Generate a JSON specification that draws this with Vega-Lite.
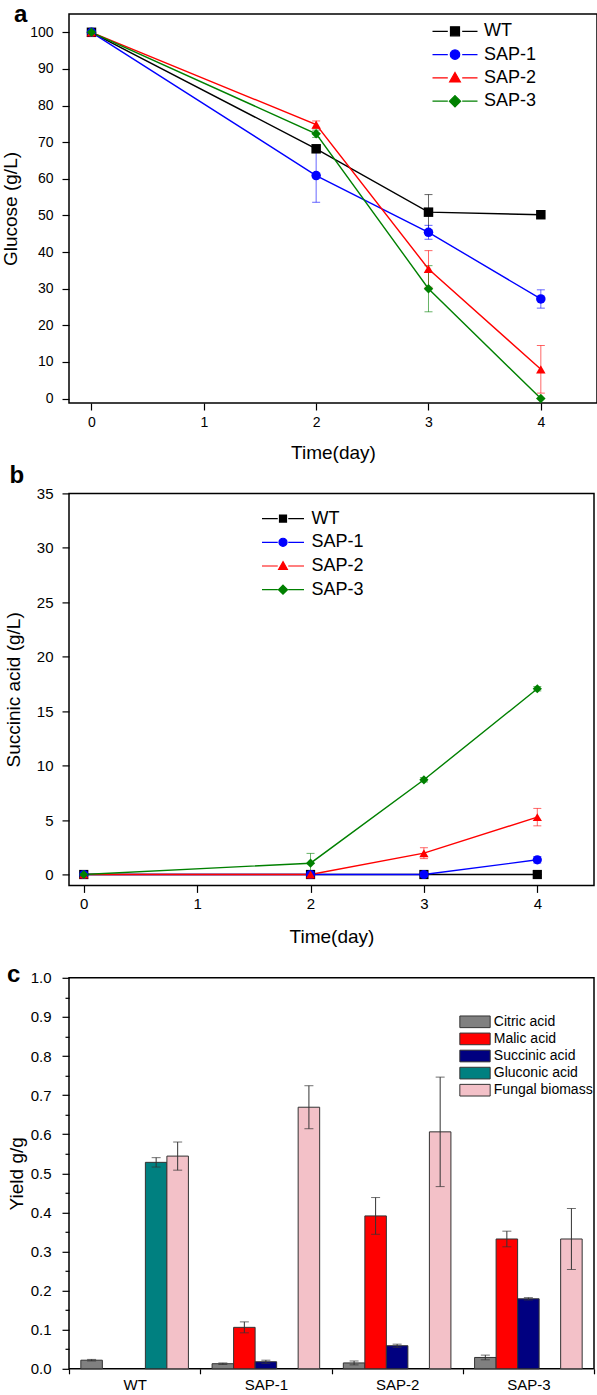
{
  "$schema": "https://vega.github.io/schema/vega-lite/v6.json",
  "background": "white",
  "padding": {"top": 2, "left": 0, "right": 0, "bottom": 0},
  "spacing": -0.6,
  "resolve": {"scale": {"color": "independent", "x": "independent", "y": "independent"}, "legend": {"color": "independent"}, "axis": {"x": "independent", "y": "independent"}},
  "config": {
    "font": "Liberation Sans",
    "view": {"stroke": "black", "strokeWidth": 1.5},
    "axis": {"domain": false, "grid": false, "tickColor": "black", "tickWidth": 1.2, "tickSize": 7, "labelColor": "black", "titleColor": "black", "titleFontWeight": "normal", "labelFontSize": 14, "titleFontSize": 19, "labelFont": "Liberation Sans", "titleFont": "Liberation Sans"},
    "legend": {"padding": 0, "labelColor": "black", "labelFont": "Liberation Sans"},
    "title": {"font": "Liberation Sans", "fontWeight": "bold", "fontSize": 24, "anchor": "start", "frame": "group", "color": "black", "baseline": "alphabetic"}
  },
  "datasets": {
    "glucose": [
      {"s": "WT", "t": 0, "v": 100, "e": 0},
      {"s": "WT", "t": 2, "v": 68.2, "e": 0.8},
      {"s": "WT", "t": 3, "v": 50.9, "e": 4.8},
      {"s": "WT", "t": 4, "v": 50.2, "e": 0.5},
      {"s": "SAP-1", "t": 0, "v": 100, "e": 0},
      {"s": "SAP-1", "t": 2, "v": 60.9, "e": 7.3},
      {"s": "SAP-1", "t": 3, "v": 45.4, "e": 1.9},
      {"s": "SAP-1", "t": 4, "v": 27.2, "e": 2.5},
      {"s": "SAP-2", "t": 0, "v": 100, "e": 0},
      {"s": "SAP-2", "t": 2, "v": 74.8, "e": 1.0},
      {"s": "SAP-2", "t": 3, "v": 35.4, "e": 5.0},
      {"s": "SAP-2", "t": 4, "v": 8.0, "e": 6.5},
      {"s": "SAP-3", "t": 0, "v": 100, "e": 0},
      {"s": "SAP-3", "t": 2, "v": 72.3, "e": 1.0},
      {"s": "SAP-3", "t": 3, "v": 30.0, "e": 6.3},
      {"s": "SAP-3", "t": 4, "v": 0, "e": 0}
    ],
    "succinic": [
      {"s": "WT", "t": 0, "v": 0, "e": 0},
      {"s": "WT", "t": 2, "v": 0, "e": 0},
      {"s": "WT", "t": 3, "v": 0, "e": 0},
      {"s": "WT", "t": 4, "v": 0, "e": 0},
      {"s": "SAP-1", "t": 0, "v": 0, "e": 0},
      {"s": "SAP-1", "t": 2, "v": 0, "e": 0},
      {"s": "SAP-1", "t": 3, "v": 0, "e": 0},
      {"s": "SAP-1", "t": 4, "v": 1.35, "e": 0.3},
      {"s": "SAP-2", "t": 0, "v": 0, "e": 0},
      {"s": "SAP-2", "t": 2, "v": 0, "e": 0},
      {"s": "SAP-2", "t": 3, "v": 1.96, "e": 0.5},
      {"s": "SAP-2", "t": 4, "v": 5.27, "e": 0.8},
      {"s": "SAP-3", "t": 0, "v": 0, "e": 0},
      {"s": "SAP-3", "t": 2, "v": 1.04, "e": 0.9},
      {"s": "SAP-3", "t": 3, "v": 8.7, "e": 0.2},
      {"s": "SAP-3", "t": 4, "v": 17.06, "e": 0.2}
    ],
    "yield": [
      {"g": "WT", "c": "Citric acid", "v": 0.022, "e": 0.002},
      {"g": "WT", "c": "Gluconic acid", "v": 0.528, "e": 0.012},
      {"g": "WT", "c": "Fungal biomass", "v": 0.544, "e": 0.036},
      {"g": "SAP-1", "c": "Citric acid", "v": 0.013, "e": 0.002},
      {"g": "SAP-1", "c": "Malic acid", "v": 0.106, "e": 0.014},
      {"g": "SAP-1", "c": "Succinic acid", "v": 0.018, "e": 0.004},
      {"g": "SAP-1", "c": "Fungal biomass", "v": 0.669, "e": 0.055},
      {"g": "SAP-2", "c": "Citric acid", "v": 0.015, "e": 0.005},
      {"g": "SAP-2", "c": "Malic acid", "v": 0.391, "e": 0.047},
      {"g": "SAP-2", "c": "Succinic acid", "v": 0.059, "e": 0.004},
      {"g": "SAP-2", "c": "Fungal biomass", "v": 0.606, "e": 0.14},
      {"g": "SAP-3", "c": "Citric acid", "v": 0.029, "e": 0.006},
      {"g": "SAP-3", "c": "Malic acid", "v": 0.332, "e": 0.02},
      {"g": "SAP-3", "c": "Succinic acid", "v": 0.179, "e": 0.003},
      {"g": "SAP-3", "c": "Fungal biomass", "v": 0.332, "e": 0.078}
    ]
  },
  "vconcat": [
    {
      "width": 528,
      "height": 389,
      "title": {"text": "a", "dx": -55, "offset": -13},
      "data": {"name": "glucose"},
      "encoding": {
        "x": {"field": "t", "type": "quantitative", "scale": {"domain": [-0.2, 4.5], "nice": false, "zero": false}, "axis": {"values": [0, 1, 2, 3, 4], "format": "d", "title": "Time(day)", "labelPadding": 5, "titlePadding": 14}},
        "y": {"field": "v", "type": "quantitative", "scale": {"domain": [-1.2, 105], "nice": false, "zero": false}, "axis": {"values": [0, 10, 20, 30, 40, 50, 60, 70, 80, 90, 100], "title": "Glucose (g/L)", "labelPadding": 9, "titlePadding": 9}},
        "color": {"field": "s", "type": "nominal", "scale": {"domain": ["WT", "SAP-1", "SAP-2", "SAP-3"], "range": ["#000000", "#0000ff", "#ff0000", "#008000"]},
          "legend": {"title": null, "orient": "none", "legendX": 377, "legendY": 8.3, "symbolSize": 81, "labelFontSize": 18, "labelOffset": 20, "rowPadding": 5.3,
            "encode": {"symbols": {"update": {
              "shape": {"signal": "datum.value === 'WT' ? 'M-5,0H-1.6M1.6,0H5M-1,-1H1V1H-1Z' : datum.value === 'SAP-1' ? 'M-5,0H-1.6M1.6,0H5M-1.05,0A1.05,1.05,0,1,1,1.05,0A1.05,1.05,0,1,1,-1.05,0Z' : datum.value === 'SAP-2' ? 'M-5,0H-1.6M1.6,0H5M0,-1.2L1.2,0.9H-1.2Z' : 'M-5,0H-1.6M1.6,0H5M0,-1.25L1.25,0L0,1.25L-1.25,0Z'"},
              "stroke": {"signal": "datum.value === 'WT' ? '#000000' : datum.value === 'SAP-1' ? '#0000ff' : datum.value === 'SAP-2' ? '#ff0000' : '#008000'"},
              "fill": {"signal": "datum.value === 'WT' ? '#000000' : datum.value === 'SAP-1' ? '#0000ff' : datum.value === 'SAP-2' ? '#ff0000' : '#008000'"},
              "strokeWidth": {"value": 1.2},
              "opacity": {"value": 1}
            }}}}}
      },
      "layer": [
        {"mark": {"type": "errorbar", "ticks": {"size": 8}, "opacity": 0.6, "thickness": 1}, "encoding": {"yError": {"field": "e"}}},
        {"mark": {"type": "line", "strokeWidth": 1.4}},
        {"transform": [{"filter": "datum.s === 'WT'"}], "mark": {"type": "point", "shape": "square", "filled": true, "size": 90, "opacity": 1}},
        {"transform": [{"filter": "datum.s === 'SAP-1'"}], "mark": {"type": "point", "shape": "circle", "filled": true, "size": 90, "opacity": 1}},
        {"transform": [{"filter": "datum.s === 'SAP-2'"}], "mark": {"type": "point", "shape": "triangle-up", "filled": true, "size": 90, "opacity": 1}},
        {"transform": [{"filter": "datum.s === 'SAP-3'"}], "mark": {"type": "point", "shape": "diamond", "filled": true, "size": 90, "opacity": 1}}
      ]
    },
    {
      "width": 525,
      "height": 392,
      "title": {"text": "b", "dx": -59.5, "offset": -1.4},
      "data": {"name": "succinic"},
      "encoding": {
        "x": {"field": "t", "type": "quantitative", "scale": {"domain": [-0.13, 4.5], "nice": false, "zero": false}, "axis": {"values": [0, 1, 2, 3, 4], "format": "d", "title": ["Time(day)", " "], "titleLineHeight": 15, "titleBaseline": "top", "labelPadding": 4, "titlePadding": 16, "labelFontSize": 15}},
        "y": {"field": "v", "type": "quantitative", "scale": {"domain": [-1, 35], "nice": false, "zero": false}, "axis": {"values": [0, 5, 10, 15, 20, 25, 30, 35], "title": "Succinic acid (g/L)", "labelPadding": 9, "titlePadding": 13, "labelFontSize": 15}},
        "color": {"field": "s", "type": "nominal", "scale": {"domain": ["WT", "SAP-1", "SAP-2", "SAP-3"], "range": ["#000000", "#0000ff", "#ff0000", "#008000"]},
          "legend": {"title": null, "orient": "none", "legendX": 205, "legendY": 16.2, "symbolSize": 49, "labelFontSize": 18, "labelOffset": 19.5, "rowPadding": 5.7,
            "encode": {"symbols": {"update": {
              "shape": {"signal": "datum.value === 'WT' ? 'M-6,0H-1.5M1.5,0H6M-1,-1H1V1H-1Z' : datum.value === 'SAP-1' ? 'M-6,0H-1.5M1.5,0H6M-1.15,0A1.15,1.15,0,1,1,1.15,0A1.15,1.15,0,1,1,-1.15,0Z' : datum.value === 'SAP-2' ? 'M-6,0H-1.5M1.5,0H6M0,-1.25L1.25,0.95H-1.25Z' : 'M-6,0H-1.5M1.5,0H6M0,-1.3L1.3,0L0,1.3L-1.3,0Z'"},
              "stroke": {"signal": "datum.value === 'WT' ? '#000000' : datum.value === 'SAP-1' ? '#0000ff' : datum.value === 'SAP-2' ? '#ff0000' : '#008000'"},
              "fill": {"signal": "datum.value === 'WT' ? '#000000' : datum.value === 'SAP-1' ? '#0000ff' : datum.value === 'SAP-2' ? '#ff0000' : '#008000'"},
              "strokeWidth": {"value": 1.2},
              "opacity": {"value": 1}
            }}}}}
      },
      "layer": [
        {"mark": {"type": "errorbar", "ticks": {"size": 8}, "opacity": 0.6, "thickness": 1}, "encoding": {"yError": {"field": "e"}}},
        {"mark": {"type": "line", "strokeWidth": 1.4}},
        {"transform": [{"filter": "datum.s === 'WT'"}], "mark": {"type": "point", "shape": "square", "filled": true, "size": 85, "opacity": 1}},
        {"transform": [{"filter": "datum.s === 'SAP-1'"}], "mark": {"type": "point", "shape": "circle", "filled": true, "size": 85, "opacity": 1}},
        {"transform": [{"filter": "datum.s === 'SAP-2'"}], "mark": {"type": "point", "shape": "triangle-up", "filled": true, "size": 85, "opacity": 1}},
        {"transform": [{"filter": "datum.s === 'SAP-3'"}], "mark": {"type": "point", "shape": "diamond", "filled": true, "size": 85, "opacity": 1}}
      ]
    },
    {
      "width": 525,
      "height": 391,
      "title": {"text": "c", "dx": -62, "offset": -16},
      "data": {"name": "yield"},
      "encoding": {
        "x": {"field": "g", "type": "nominal", "sort": ["WT", "SAP-1", "SAP-2", "SAP-3"], "scale": {"paddingInner": 0, "paddingOuter": 0},
          "axis": {"title": null, "labelAngle": 0, "tickBand": "extent", "labelFontSize": 15, "labelPadding": 4, "tickSize": 5}},
        "xOffset": {"field": "c", "type": "nominal", "sort": ["Citric acid", "Malic acid", "Succinic acid", "Gluconic acid", "Fungal biomass"], "scale": {"domain": ["Citric acid", "Malic acid", "Succinic acid", "Gluconic acid", "Fungal biomass"], "paddingInner": 0, "paddingOuter": 0.55}},
        "y": {"field": "v", "type": "quantitative", "scale": {"domain": [0, 1], "nice": false, "zero": false},
          "axis": {"values": [0, 0.05, 0.1, 0.15, 0.2, 0.25, 0.3, 0.35, 0.4, 0.45, 0.5, 0.55, 0.6, 0.65, 0.7, 0.75, 0.8, 0.85, 0.9, 0.95, 1.0],
            "labelExpr": "round(datum.value * 100) % 10 === 0 ? format(datum.value, '.1f') : ''",
            "tickSize": {"condition": {"test": "round(datum.value * 100) % 10 !== 0", "value": 4}, "value": 7},
            "title": "Yield g/g", "labelPadding": 11, "titlePadding": 4, "labelFontSize": 15}}
      },
      "layer": [
        {"mark": {"type": "bar", "stroke": "#333333", "strokeWidth": 1},
          "encoding": {"color": {"field": "c", "type": "nominal", "scale": {"domain": ["Citric acid", "Malic acid", "Succinic acid", "Gluconic acid", "Fungal biomass"], "range": ["#808080", "#ff0000", "#000080", "#008080", "#f3c1c8"]},
            "legend": {"title": null, "orient": "none", "legendX": 399, "legendY": 37, "symbolType": "M-2.6,-1H2.6V1H-2.6Z", "symbolSize": 136, "symbolStrokeColor": "#333333", "symbolStrokeWidth": 1, "symbolOpacity": 1, "labelFontSize": 14, "labelOffset": 11.8, "rowPadding": 1.1}}}},
        {"mark": {"type": "errorbar", "ticks": {"size": 9}, "color": "#333333", "thickness": 1}, "encoding": {"yError": {"field": "e"}}}
      ]
    }
  ]
}
